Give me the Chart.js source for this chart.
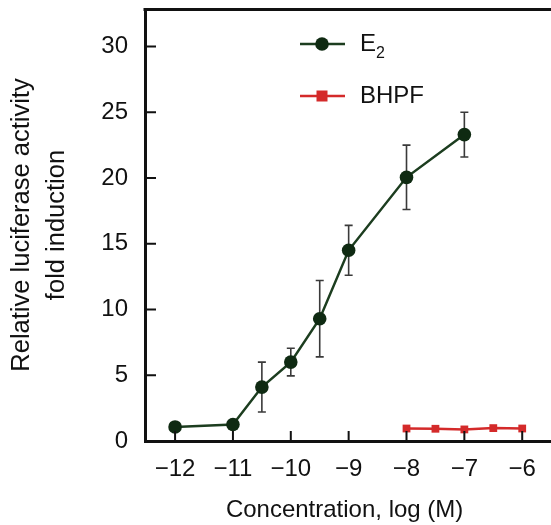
<!DOCTYPE html>
<html>
<head>
<meta charset="utf-8">
<script src="https://cdn.jsdelivr.net/npm/chart.js@4"></script>
<style>
  html, body { margin: 0; padding: 0; background: #fff; }
  #wrap { width: 551px; height: 525px; }
</style>
</head>
<body>
<div id="wrap"><canvas id="doseChart" width="551" height="525"></canvas></div>
<script>
// log concentration (M)
const concE2 = [-12, -11, -10.5, -10, -9.5, -9, -8, -7];
const e2Mean = [1.07, 1.25, 4.1, 6.0, 9.3, 14.5, 20.05, 23.3];
const e2Err = [0, 0, 1.9, 1.05, 2.9, 1.9, 2.45, 1.7];

const concBhpf = [-8, -7.5, -7, -6.5, -6];
const bhpfMean = [0.95, 0.93, 0.88, 0.98, 0.95];

const xTicks = [-12, -11, -10, -9, -8, -7, -6];
const yTicks = [0, 5, 10, 15, 20, 25, 30];

const FONT = '"Liberation Sans", Arial, sans-serif';
const green = '#1c3d1f';
const red = '#d42a2a';

const minus = v => String(v).replace('-', '\u2212');

// error bars for E2
const errorBars = {
    id: 'errorBars',
    beforeDatasetsDraw(chart) {
        const ctx = chart.ctx;
        const xs = chart.scales.x, ys = chart.scales.y;
        ctx.save();
        ctx.strokeStyle = '#3a3a3a';
        ctx.lineWidth = 1.6;
        for (let i = 0; i < concE2.length; i++) {
            if (!e2Err[i]) continue;
            const x = xs.getPixelForValue(concE2[i]);
            const top = ys.getPixelForValue(e2Mean[i] + e2Err[i]);
            const bot = ys.getPixelForValue(e2Mean[i] - e2Err[i]);
            ctx.beginPath();
            ctx.moveTo(x, top); ctx.lineTo(x, bot);
            ctx.moveTo(x - 4, top); ctx.lineTo(x + 4, top);
            ctx.moveTo(x - 4, bot); ctx.lineTo(x + 4, bot);
            ctx.stroke();
        }
        ctx.restore();
    }
};

// inward ticks + top frame line
const frame = {
    id: 'frame',
    afterDraw(chart) {
        const ctx = chart.ctx;
        const a = chart.chartArea;
        const xs = chart.scales.x, ys = chart.scales.y;
        ctx.save();
        ctx.strokeStyle = '#111';
        ctx.lineWidth = 2;
        ctx.beginPath();
        xTicks.forEach(v => {
            const x = xs.getPixelForValue(v);
            ctx.moveTo(x, a.bottom); ctx.lineTo(x, a.bottom - 10);
        });
        yTicks.forEach(v => {
            const y = ys.getPixelForValue(v);
            ctx.moveTo(a.left, y); ctx.lineTo(a.left + 11, y);
        });
        ctx.stroke();
        ctx.lineWidth = 3;
        ctx.beginPath();
        const topY = Math.round(a.top) + 0.5;
        const botY = Math.round(a.bottom) + 0.5;
        ctx.moveTo(a.left - 1.5, topY); ctx.lineTo(chart.width, topY);
        ctx.moveTo(a.right - 2, botY); ctx.lineTo(chart.width, botY);
        ctx.stroke();
        ctx.restore();
    }
};

// legend inside the plot
const innerLegend = {
    id: 'innerLegend',
    afterDraw(chart) {
        const ctx = chart.ctx;
        const x0 = 300, x1 = 345, tx = 360;
        const rows = [
            { y: 44, color: green, square: false },
            { y: 96, color: red, square: true }
        ];
        ctx.save();
        rows.forEach(r => {
            ctx.strokeStyle = r.color;
            ctx.lineWidth = 2.5;
            ctx.beginPath();
            ctx.moveTo(x0, r.y); ctx.lineTo(x1, r.y);
            ctx.stroke();
            ctx.fillStyle = r.square ? red : '#0f2a12';
            const cx = 322;
            if (r.square) {
                ctx.fillRect(cx - 5.5, r.y - 5.5, 11, 11);
            } else {
                ctx.beginPath();
                ctx.arc(cx, r.y, 6.8, 0, Math.PI * 2);
                ctx.fill();
            }
        });
        ctx.fillStyle = '#111';
        ctx.textBaseline = 'middle';
        ctx.font = '24px ' + FONT;
        ctx.fillText('E', tx, 44);
        const w = ctx.measureText('E').width;
        ctx.font = '16px ' + FONT;
        ctx.fillText('2', tx + w, 54);
        ctx.font = '24px ' + FONT;
        ctx.fillText('BHPF', tx, 96);
        ctx.restore();
    }
};

new Chart(document.getElementById('doseChart'), {
    type: 'scatter',
    data: {
        datasets: [
            {
                label: 'E2',
                data: concE2.map((x, i) => ({ x, y: e2Mean[i] })),
                showLine: true,
                borderColor: green,
                backgroundColor: '#0f2a12',
                borderWidth: 2.5,
                pointRadius: 6.8,
                pointHoverRadius: 6.8,
                pointBorderWidth: 0,
                clip: false
            },
            {
                label: 'BHPF',
                data: concBhpf.map((x, i) => ({ x, y: bhpfMean[i] })),
                showLine: true,
                borderColor: red,
                backgroundColor: red,
                borderWidth: 2.5,
                pointStyle: 'rect',
                pointRadius: 5.5,
                pointHoverRadius: 5.5,
                pointBorderWidth: 0,
                clip: false
            }
        ]
    },
    options: {
        responsive: false,
        animation: false,
        layout: { padding: { top: 9, left: 0, right: 0, bottom: 0 } },
        plugins: {
            legend: { display: false },
            tooltip: { enabled: false }
        },
        scales: {
            x: {
                type: 'linear',
                min: -12.52,
                max: -5.62,
                afterBuildTicks: s => { s.ticks = xTicks.map(v => ({ value: v })); },
                afterFit: s => { s.height = 84; s.paddingLeft = 0; s.paddingRight = 0; },
                grid: { display: false, drawTicks: false },
                border: { display: true, color: '#111', width: 3 },
                ticks: {
                    color: '#111',
                    padding: 14,
                    maxRotation: 0,
                    font: { family: FONT, size: 24 },
                    callback: v => minus(v)
                },
                title: {
                    display: true,
                    text: 'Concentration, log (M)',
                    color: '#111',
                    padding: { top: 4, bottom: 0 },
                    font: { family: FONT, size: 24 }
                }
            },
            y: {
                min: 0,
                max: 32.85,
                afterBuildTicks: s => { s.ticks = yTicks.map(v => ({ value: v })); },
                afterFit: s => { s.width = 145; s.paddingTop = 0; s.paddingBottom = 0; },
                grid: { display: false, drawTicks: false },
                border: { display: true, color: '#111', width: 3 },
                ticks: {
                    color: '#111',
                    padding: 17,
                    font: { family: FONT, size: 24 }
                },
                title: {
                    display: true,
                    text: ['Relative luciferase activity', 'fold induction'],
                    color: '#111',
                    padding: { top: 4.5, bottom: 0 },
                    font: { family: FONT, size: 25.5, lineHeight: 1.37 }
                }
            }
        }
    },
    plugins: [errorBars, frame, innerLegend]
});
</script>
</body>
</html>
